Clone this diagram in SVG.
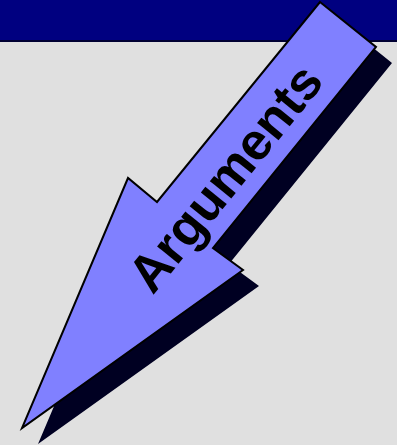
<svg xmlns="http://www.w3.org/2000/svg" width="397" height="445" viewBox="0 0 397 445">
<style>
.bg{fill:#E0E0E0}
.hdr{fill:#000080}
.rule{stroke:#000033;stroke-width:2}
.shadow{fill:#000022}
.arrow{fill:#8080FF;stroke:#000000;stroke-width:2;stroke-linejoin:miter}
.lbl{font-family:"Liberation Sans",Arial,sans-serif;font-weight:bold;font-size:52px;fill:#000000}
</style>
<rect class="bg" x="0" y="0" width="397" height="445"/>
<rect class="hdr" x="0" y="0" width="397" height="41"/>
<line class="rule" x1="0" y1="41" x2="397" y2="41"/>
<g id="arrow">
<polygon class="shadow" points="336,18 392,63 229,264 259,286 38,444 144,194 173,218"/>
<polygon class="arrow" points="320,2 376,47 213,248 243,270 22,428 128,178 157,202"/>
<text class="lbl" x="0" y="0" text-anchor="middle" transform="translate(239,189) rotate(-51)">Arguments</text>
</g>
</svg>
